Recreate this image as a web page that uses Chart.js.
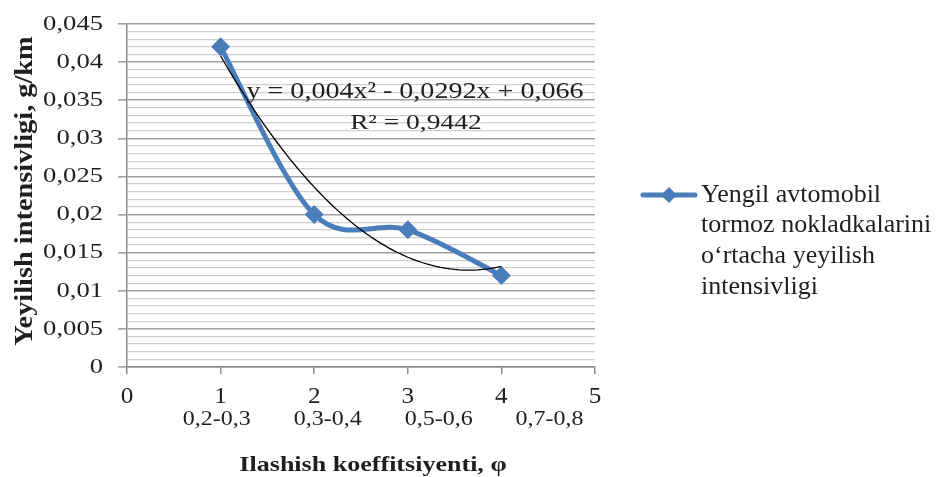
<!DOCTYPE html>
<html>
<head>
<meta charset="utf-8">
<script src="https://cdn.jsdelivr.net/npm/chart.js@4/dist/chart.umd.min.js"></script>
<style>
  html, body { margin: 0; padding: 0; background: #ffffff; }
  #wrap { width: 936px; height: 477px; }
</style>
</head>
<body>
<div id="wrap"><canvas id="chart" width="936" height="477"></canvas></div>
<script>
// Wear intensity of passenger-car brake pads versus adhesion coefficient
const categoryX = [1, 2, 3, 4];
const wearValues = [0.042, 0.020, 0.018, 0.012];
const phiRanges = ['0,2-0,3', '0,3-0,4', '0,5-0,6', '0,7-0,8'];
const yTickValues = [0, 0.005, 0.01, 0.015, 0.02, 0.025, 0.03, 0.035, 0.04, 0.045];
const xTickValues = [0, 1, 2, 3, 4, 5];
// polynomial trendline y = a*x^2 + b*x + c
const trendCoefficients = [0.004, -0.0292, 0.066];
const trendRange = [1, 4];
const trendEquation = 'y = 0,004x² - 0,0292x + 0,066';
const trendR2 = 'R² = 0,9442';
const seriesLegend = ['Yengil avtomobil', 'tormoz nokladkalarini', 'o‘rtacha yeyilish', 'intensivligi'];
const yTitle = 'Yeyilish intensivligi, g/km';
const xTitle = 'Ilashish koeffitsiyenti, φ';

const BLUE = '#4a7ebb';
const SERIF = '"Liberation Serif", "Times New Roman", serif';
const TEXT = '#1f1f1f';

const seriesPoints = categoryX.map((x, i) => ({ x: x, y: wearValues[i] }));
const trendPoints = [];
for (let k = 0; k <= 60; k++) {
  const x = trendRange[0] + (trendRange[1] - trendRange[0]) * k / 60;
  const [a, b, c] = trendCoefficients;
  trendPoints.push({ x: x, y: a * x * x + b * x + c });
}

const fmt = v => String(Math.round(v * 1000) / 1000).replace('.', ',');
const isMajor = v => Math.round(v * 1000) % 5 === 0;

function drawText(ctx, str, x, y, font, align, baseline, sx) {
  ctx.save();
  ctx.font = font;
  ctx.fillStyle = TEXT;
  ctx.textAlign = align;
  ctx.textBaseline = baseline;
  ctx.translate(x, y);
  ctx.scale(sx || 1, 1);
  ctx.fillText(str, 0, 0);
  ctx.restore();
}

// Catmull-Rom style smoothing (tangent = (next - prev) / 6) for the data series
const smoothPlugin = {
  id: 'catmullSmooth',
  beforeDatasetDraw(chart, args) {
    if (args.index !== 1) return;
    const line = args.meta.dataset;
    const pts = args.meta.data;
    line.updateControlPoints(chart.chartArea, 'x');
    const n = pts.length;
    for (let i = 0; i < n; i++) {
      const prev = pts[Math.max(i - 1, 0)];
      const next = pts[Math.min(i + 1, n - 1)];
      const dx = (next.x - prev.x) / 6, dy = (next.y - prev.y) / 6;
      pts[i].cp1x = pts[i].x - dx;
      pts[i].cp1y = pts[i].y - dy;
      pts[i].cp2x = pts[i].x + dx;
      pts[i].cp2y = pts[i].y + dy;
    }
  }
};

const textPlugin = {
  id: 'chartText',
  afterDraw(chart) {
    const ctx = chart.ctx;
    const xs = chart.scales.x, ys = chart.scales.y;

    // y tick labels
    yTickValues.forEach(v => {
      drawText(ctx, fmt(v), 103, ys.getPixelForValue(v), '22px ' + SERIF, 'right', 'middle', 1.21);
    });
    // x tick labels
    xTickValues.forEach(v => {
      drawText(ctx, String(v), xs.getPixelForValue(v), 397, '24px ' + SERIF, 'center', 'middle', 1.05);
    });
    // adhesion ranges under the axis numbers
    phiRanges.forEach((t, i) => {
      drawText(ctx, t, xs.getPixelForValue(0.96 + i * 1.185), 420, '20px ' + SERIF, 'center', 'middle', 1.2);
    });

    // trendline equation
    drawText(ctx, trendEquation, 415, 92, '23px ' + SERIF, 'center', 'middle', 1.22);
    drawText(ctx, trendR2, 416, 123, '22px ' + SERIF, 'center', 'middle', 1.25);

    // axis titles
    drawText(ctx, xTitle, 373, 471, 'bold 21px ' + SERIF, 'center', 'alphabetic', 1.24);
    ctx.save();
    ctx.translate(32, 191);
    ctx.rotate(-Math.PI / 2);
    drawText(ctx, yTitle, 0, 0, 'bold 26px ' + SERIF, 'center', 'alphabetic', 1.09);
    ctx.restore();

    // legend
    ctx.save();
    ctx.strokeStyle = BLUE;
    ctx.lineWidth = 5;
    ctx.lineCap = 'round';
    ctx.beginPath();
    ctx.moveTo(643, 195);
    ctx.lineTo(695, 195);
    ctx.stroke();
    ctx.fillStyle = BLUE;
    ctx.beginPath();
    ctx.moveTo(669, 187);
    ctx.lineTo(677, 195);
    ctx.lineTo(669, 203);
    ctx.lineTo(661, 195);
    ctx.closePath();
    ctx.fill();
    ctx.restore();
    seriesLegend.forEach((t, i) => {
      drawText(ctx, t, 701, 195 + i * 30.7, '25px ' + SERIF, 'left', 'middle', 1.04);
    });
  }
};

new Chart(document.getElementById('chart'), {
  type: 'scatter',
  data: {
    datasets: [
      {
        label: 'Polinom trend',
        data: trendPoints,
        showLine: true,
        borderColor: '#000000',
        borderWidth: 1.3,
        pointRadius: 0,
        tension: 0,
        order: 0
      },
      {
        label: seriesLegend.join(' '),
        data: seriesPoints,
        showLine: true,
        borderColor: BLUE,
        backgroundColor: BLUE,
        borderWidth: 5,
        pointStyle: 'rectRot',
        pointRadius: 9.5,
        pointHoverRadius: 9.5,
        pointBorderWidth: 0,
        tension: 0.4,
        order: 1
      }
    ]
  },
  options: {
    responsive: false,
    animation: false,
    devicePixelRatio: 1,
    layout: { padding: { left: 0, right: 341, top: 24, bottom: 0 } },
    plugins: { legend: { display: false }, tooltip: { enabled: false } },
    scales: {
      x: {
        type: 'linear',
        min: 0, max: 5,
        ticks: { stepSize: 1, display: false },
        grid: { drawOnChartArea: false, drawTicks: true, tickLength: 7, color: '#8c8c8c', tickColor: '#8c8c8c', lineWidth: 1.5 },
        border: { color: '#8c8c8c', width: 1.5 },
        afterFit: s => { s.height = 110; }
      },
      y: {
        type: 'linear',
        min: 0, max: 0.045,
        ticks: { stepSize: 0.001, maxTicksLimit: 100, display: false },
        grid: {
          drawTicks: true,
          tickLength: 9,
          color: c => isMajor(c.tick.value) ? '#a0a0a0' : '#cfcfcf',
          tickColor: c => isMajor(c.tick.value) ? '#a0a0a0' : 'rgba(0,0,0,0)',
          lineWidth: c => isMajor(c.tick.value) ? 1.6 : 1.3
        },
        border: { color: '#8c8c8c', width: 1.5 },
        afterFit: s => { s.width = 127; }
      }
    }
  },
  plugins: [smoothPlugin, textPlugin]
});
</script>
</body>
</html>
